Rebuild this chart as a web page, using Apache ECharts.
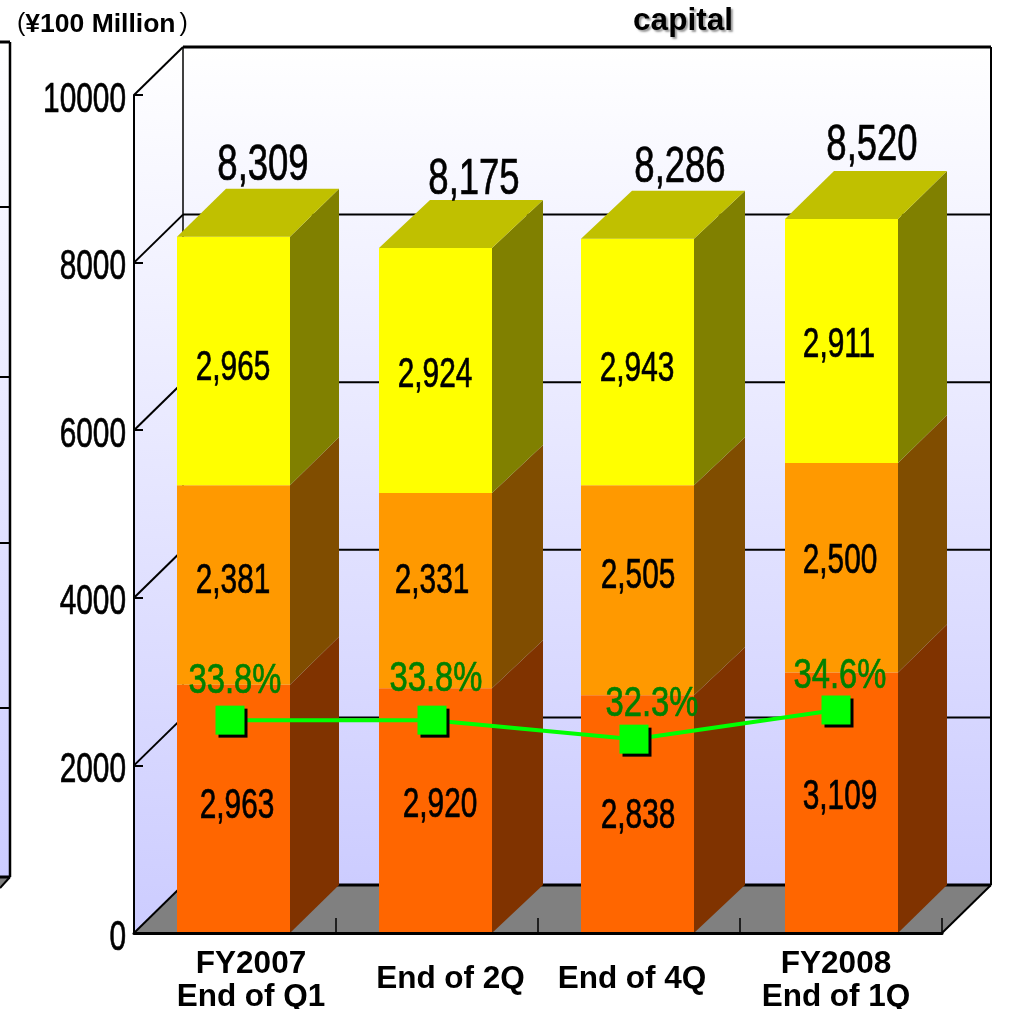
<!DOCTYPE html>
<html>
<head>
<meta charset="utf-8">
<title>capital</title>
<style>html,body{margin:0;padding:0;background:#fff}#chart{width:1016px;height:1009px}</style>
<script src="https://cdn.jsdelivr.net/npm/echarts@6/dist/echarts.min.js"></script>
</head>
<body>
<div id="chart"></div>
<script>
// Quarter-end capital, stacked in three tiers, with the ratio line on top.
const categories = ['FY2007\nEnd of Q1', 'End of 2Q', 'End of 4Q', 'FY2008\nEnd of 1Q'];
const lowerTier = [2963, 2920, 2838, 3109];
const middleTier = [2381, 2331, 2505, 2500];
const upperTier = [2965, 2924, 2943, 2911];
const totals = [8309, 8175, 8286, 8520];
const ratios = [33.8, 33.8, 32.3, 34.6];
const valueTicks = [0, 2000, 4000, 6000, 8000, 10000];

// Layout of the pseudo-3D box, in pixels.
const DEPTH_X = 49, DEPTH_Y = -48, BAR_WIDTH = 113;
const barShift = [-1.5, -1.5, -1.5, 0.5];
const barExtraDepth = [0, 2, 2, 0];
const tierColors = [
  { front: '#ff6600', side: '#803300' },
  { front: '#ff9900', side: '#804d00' },
  { front: '#ffff00', side: '#808000', top: '#c0c000' }
];
const tierLabelNudge = [
  [[2, -2], [3, -5], [-1, 2], [-1, -5]],
  [[-2, -4], [-5, -9], [-1, -14], [-1, -6]],
  [[-2, 7], [-2, 5], [-2, 7], [-2, 4]]
];
const totalLabelNudge = [[28, -70], [37, -68], [41, -70], [31, -73]];
const ratioLabelNudge = [[5, -39], [4, -41], [18, -35], [4, -34]];

const wallFill = y1 => new echarts.graphic.LinearGradient(0, 0, 0, y1, [
  { offset: 0, color: '#ffffff' }, { offset: 1, color: '#ccccff' }
]);
const fmt = v => v.toLocaleString('en-US');

// Condensed numerals: Arial-metric type squeezed horizontally, slightly emboldened.
function squeezed(text, x, y, px, scaleX, fill, align) {
  return {
    type: 'text', x, y, scaleX, z2: 20,
    style: {
      text, fill, stroke: fill, lineWidth: 0.7,
      font: px + 'px "Liberation Sans", Arial, sans-serif',
      align: align || 'center', verticalAlign: 'middle'
    }
  };
}
function stroke(x1, y1, x2, y2, width) {
  return { type: 'line', shape: { x1, y1, x2, y2 }, style: { stroke: '#000', lineWidth: width } };
}

// Left wall, back wall, floor and the grid lines that wrap around them.
function renderBox(params, api) {
  const band = api.size([1, 0])[0];
  const x0 = api.coord([0, 0])[0] - band / 2;
  const x1 = api.coord([categories.length - 1, 0])[0] + band / 2;
  const yBase = api.coord([0, 0])[1];
  const yTop = api.coord([0, 10000])[1];
  const bx0 = x0 + DEPTH_X, bx1 = x1 + DEPTH_X;
  const children = [
    { type: 'polygon', shape: { points: [[x0, yTop], [bx0, yTop + DEPTH_Y], [bx0, yBase + DEPTH_Y], [x0, yBase]] }, style: { fill: wallFill(1) } },
    { type: 'rect', shape: { x: bx0, y: yTop + DEPTH_Y, width: bx1 - bx0, height: yBase - yTop }, style: { fill: wallFill(1) } },
    { type: 'polygon', shape: { points: [[x0, yBase], [x1, yBase], [bx1, yBase + DEPTH_Y], [bx0, yBase + DEPTH_Y]] }, style: { fill: '#808080' } }
  ];
  valueTicks.forEach(v => {
    const y = api.coord([0, v])[1];
    const w = (v === 0 || v === 10000) ? 3 : 2;
    children.push(stroke(bx0, y + DEPTH_Y, bx1, y + DEPTH_Y, w));
    children.push(stroke(x0, y, bx0, y + DEPTH_Y, 2));
  });
  children.push(stroke(bx0, yTop + DEPTH_Y, bx0, yBase + DEPTH_Y, 1.5));
  children.push(stroke(bx1, yTop + DEPTH_Y, bx1, yBase + DEPTH_Y, 2));
  children.push(stroke(x1, yBase, bx1, yBase + DEPTH_Y, 2));
  return { type: 'group', children };
}

// One stacked prism: front face, side face, and the cap on the uppermost tier.
function renderTier(tier) {
  return function (params, api) {
    const i = api.value(0);
    const base = api.value(1), value = api.value(2);
    const c = api.coord([i, base]);
    const yBottom = c[1];
    const yTop = api.coord([i, base + value])[1];
    const x = c[0] + barShift[i] - BAR_WIDTH / 2;
    const xr = x + BAR_WIDTH;
    const dx = DEPTH_X + barExtraDepth[i];
    const color = tierColors[tier];
    const children = [
      { type: 'polygon', shape: { points: [[xr, yTop], [xr + dx, yTop + DEPTH_Y], [xr + dx, yBottom + DEPTH_Y], [xr, yBottom]] }, style: { fill: color.side } },
      { type: 'rect', shape: { x, y: yTop, width: BAR_WIDTH, height: yBottom - yTop }, style: { fill: color.front } }
    ];
    if (color.top) {
      children.push({ type: 'polygon', shape: { points: [[x, yTop], [xr, yTop], [xr + dx, yTop + DEPTH_Y], [x + dx, yTop + DEPTH_Y]] }, style: { fill: color.top } });
    }
    return { type: 'group', children };
  };
}

// Value text sits above the line series, so it is drawn as its own layer.
function renderTierLabel(tier) {
  return function (params, api) {
    const i = api.value(0);
    const base = api.value(1), value = api.value(2);
    const yMid = api.coord([i, base + value / 2]);
    const n = tierLabelNudge[tier][i];
    return squeezed(fmt(value), yMid[0] + n[0], yMid[1] + n[1], 42, 0.71, '#000');
  };
}
function renderTotalLabel(params, api) {
  const i = api.value(0), total = api.value(1);
  const p = api.coord([i, total]);
  const n = totalLabelNudge[i];
  return squeezed(fmt(total), p[0] + n[0], p[1] + n[1], 50, 0.73, '#000');
}
function renderRatioLabel(params, api) {
  const i = api.value(0), ratio = api.value(1);
  const p = api.coord([i, ratio]);
  const n = ratioLabelNudge[i];
  return squeezed(ratio.toFixed(1) + '%', p[0] + n[0], p[1] + n[1], 42, 0.78, '#008000');
}
// The value axis numerals need the same condensed cut as the data labels.
function renderTickLabel(params, api) {
  const v = api.value(1);
  const p = api.coord([0, v]);
  const band = api.size([1, 0])[0];
  return squeezed(String(v), p[0] - band / 2 - 8, p[1] + 5, 42, 0.71, '#000', 'right');
}

const stacks = [lowerTier, middleTier, upperTier];
const tierRows = stacks.map((vals, t) => vals.map((v, i) => {
  let base = 0;
  for (let k = 0; k < t; k++) base += stacks[k][i];
  return [i, base, v];
}));

const tierSeries = [];
stacks.forEach((vals, t) => {
  tierSeries.push({
    type: 'custom', xAxisIndex: 0, yAxisIndex: 0, z: 2, clip: false, silent: true,
    renderItem: renderTier(t), data: tierRows[t], encode: { x: 0, y: [1, 2] }
  });
});
stacks.forEach((vals, t) => {
  tierSeries.push({
    type: 'custom', xAxisIndex: 0, yAxisIndex: 0, z: 6, clip: false, silent: true,
    renderItem: renderTierLabel(t), data: tierRows[t], encode: { x: 0, y: [1, 2] }
  });
});

const labelPads = [
  { padding: [0, 0, 0, 32] },
  { padding: [15, 0, 0, 27] },
  { padding: [15, 14, 0, 0] },
  { padding: [0, 10, 0, 0] }
];

const chart = echarts.init(document.getElementById('chart'), null, { renderer: 'canvas' });
chart.setOption({
  animation: false,
  backgroundColor: '#fff',
  title: [
    {
      text: 'capital', left: 678, top: 0, textAlign: 'center',
      textStyle: { fontFamily: '"Liberation Sans", Arial, sans-serif', fontWeight: 'bold', fontSize: 31.5, color: '#000', textShadowColor: 'rgba(0,0,0,0.4)', textShadowBlur: 2, textShadowOffsetX: 2, textShadowOffsetY: 2 }
    },
    {
      text: '{p|(}{b|¥100 Million}{p|)}', left: 12, top: 6,
      textStyle: {
        rich: {
          p: { fontFamily: '"Liberation Sans", Arial, sans-serif', fontWeight: 'normal', fontSize: 25, color: '#000' },
          b: { fontFamily: '"Liberation Sans", Arial, sans-serif', fontWeight: 'bold', fontSize: 26.5, color: '#000', padding: [0, 4, 0, 0] }
        }
      }
    }
  ],
  grid: [
    { left: 134, top: 95, width: 808, height: 838, outerBoundsMode: 'none' },
    { left: 129, top: 95, width: 808, height: 838, outerBoundsMode: 'none' }
  ],
  xAxis: [
    {
      type: 'category', gridIndex: 0, z: 3,
      data: categories.map((value, i) => ({ value, textStyle: labelPads[i] })),
      axisLine: { lineStyle: { color: '#000', width: 3 } },
      axisTick: { show: true, inside: true, length: 15, lineStyle: { color: '#000', width: 1.5 } },
      axisLabel: { interval: 0, margin: 15, color: '#000', fontFamily: '"Liberation Sans", Arial, sans-serif', fontWeight: 'bold', fontSize: 31.5, lineHeight: 33 },
      splitLine: { show: false }
    },
    { type: 'category', gridIndex: 1, show: false, data: categories }
  ],
  yAxis: [
    {
      type: 'value', gridIndex: 0, min: 0, max: 10000, interval: 2000, z: 3,
      axisLine: { show: true, lineStyle: { color: '#000', width: 2 } },
      axisTick: { show: true, inside: true, length: 9, lineStyle: { color: '#000', width: 2 } },
      axisLabel: { show: false },
      splitLine: { show: false }
    },
    { type: 'value', gridIndex: 1, show: false, min: 17, max: 83.14, splitLine: { show: false } }
  ],
  // Neighbouring panel running off the left edge of the page.
  graphic: [{
    type: 'group', silent: true, z: -2,
    children: [
      { type: 'rect', shape: { x: 0, y: 42, width: 10, height: 835 }, style: { fill: wallFill(1) } },
      { type: 'polygon', shape: { points: [[0, 877], [10, 877], [0, 888]] }, style: { fill: '#808080' } }
    ].concat([42, 207, 377, 543, 708, 877].map(y => stroke(0, y, 10, y, y === 42 || y === 877 ? 3 : 2)))
     .concat([stroke(10, 42, 10, 877, 2.5), stroke(10, 877, 0, 888, 2)])
  }],
  series: [
    {
      type: 'custom', xAxisIndex: 0, yAxisIndex: 0, z: -1, clip: false, silent: true,
      renderItem: renderBox, data: [[0, 0]], encode: { x: 0, y: 1 }
    },
    {
      type: 'custom', xAxisIndex: 0, yAxisIndex: 0, z: 6, clip: false, silent: true,
      renderItem: renderTickLabel, data: valueTicks.map(v => [0, v]), encode: { x: 0, y: 1 }
    }
  ].concat(tierSeries, [
    {
      type: 'custom', xAxisIndex: 0, yAxisIndex: 0, z: 6, clip: false, silent: true,
      renderItem: renderTotalLabel, data: totals.map((v, i) => [i, v]), encode: { x: 0, y: 1 }
    },
    {
      type: 'line', xAxisIndex: 1, yAxisIndex: 1, z: 5, data: ratios, silent: true,
      symbol: 'rect', symbolSize: 29, showAllSymbol: true,
      lineStyle: { color: '#00ff00', width: 4 },
      itemStyle: { color: '#00ff00', shadowColor: '#000', shadowBlur: 0, shadowOffsetX: 3, shadowOffsetY: 3 }
    },
    {
      type: 'custom', xAxisIndex: 1, yAxisIndex: 1, z: 6, clip: false, silent: true,
      renderItem: renderRatioLabel, data: ratios.map((v, i) => [i, v]), encode: { x: 0, y: 1 }
    }
  ])
});
</script>
</body>
</html>
